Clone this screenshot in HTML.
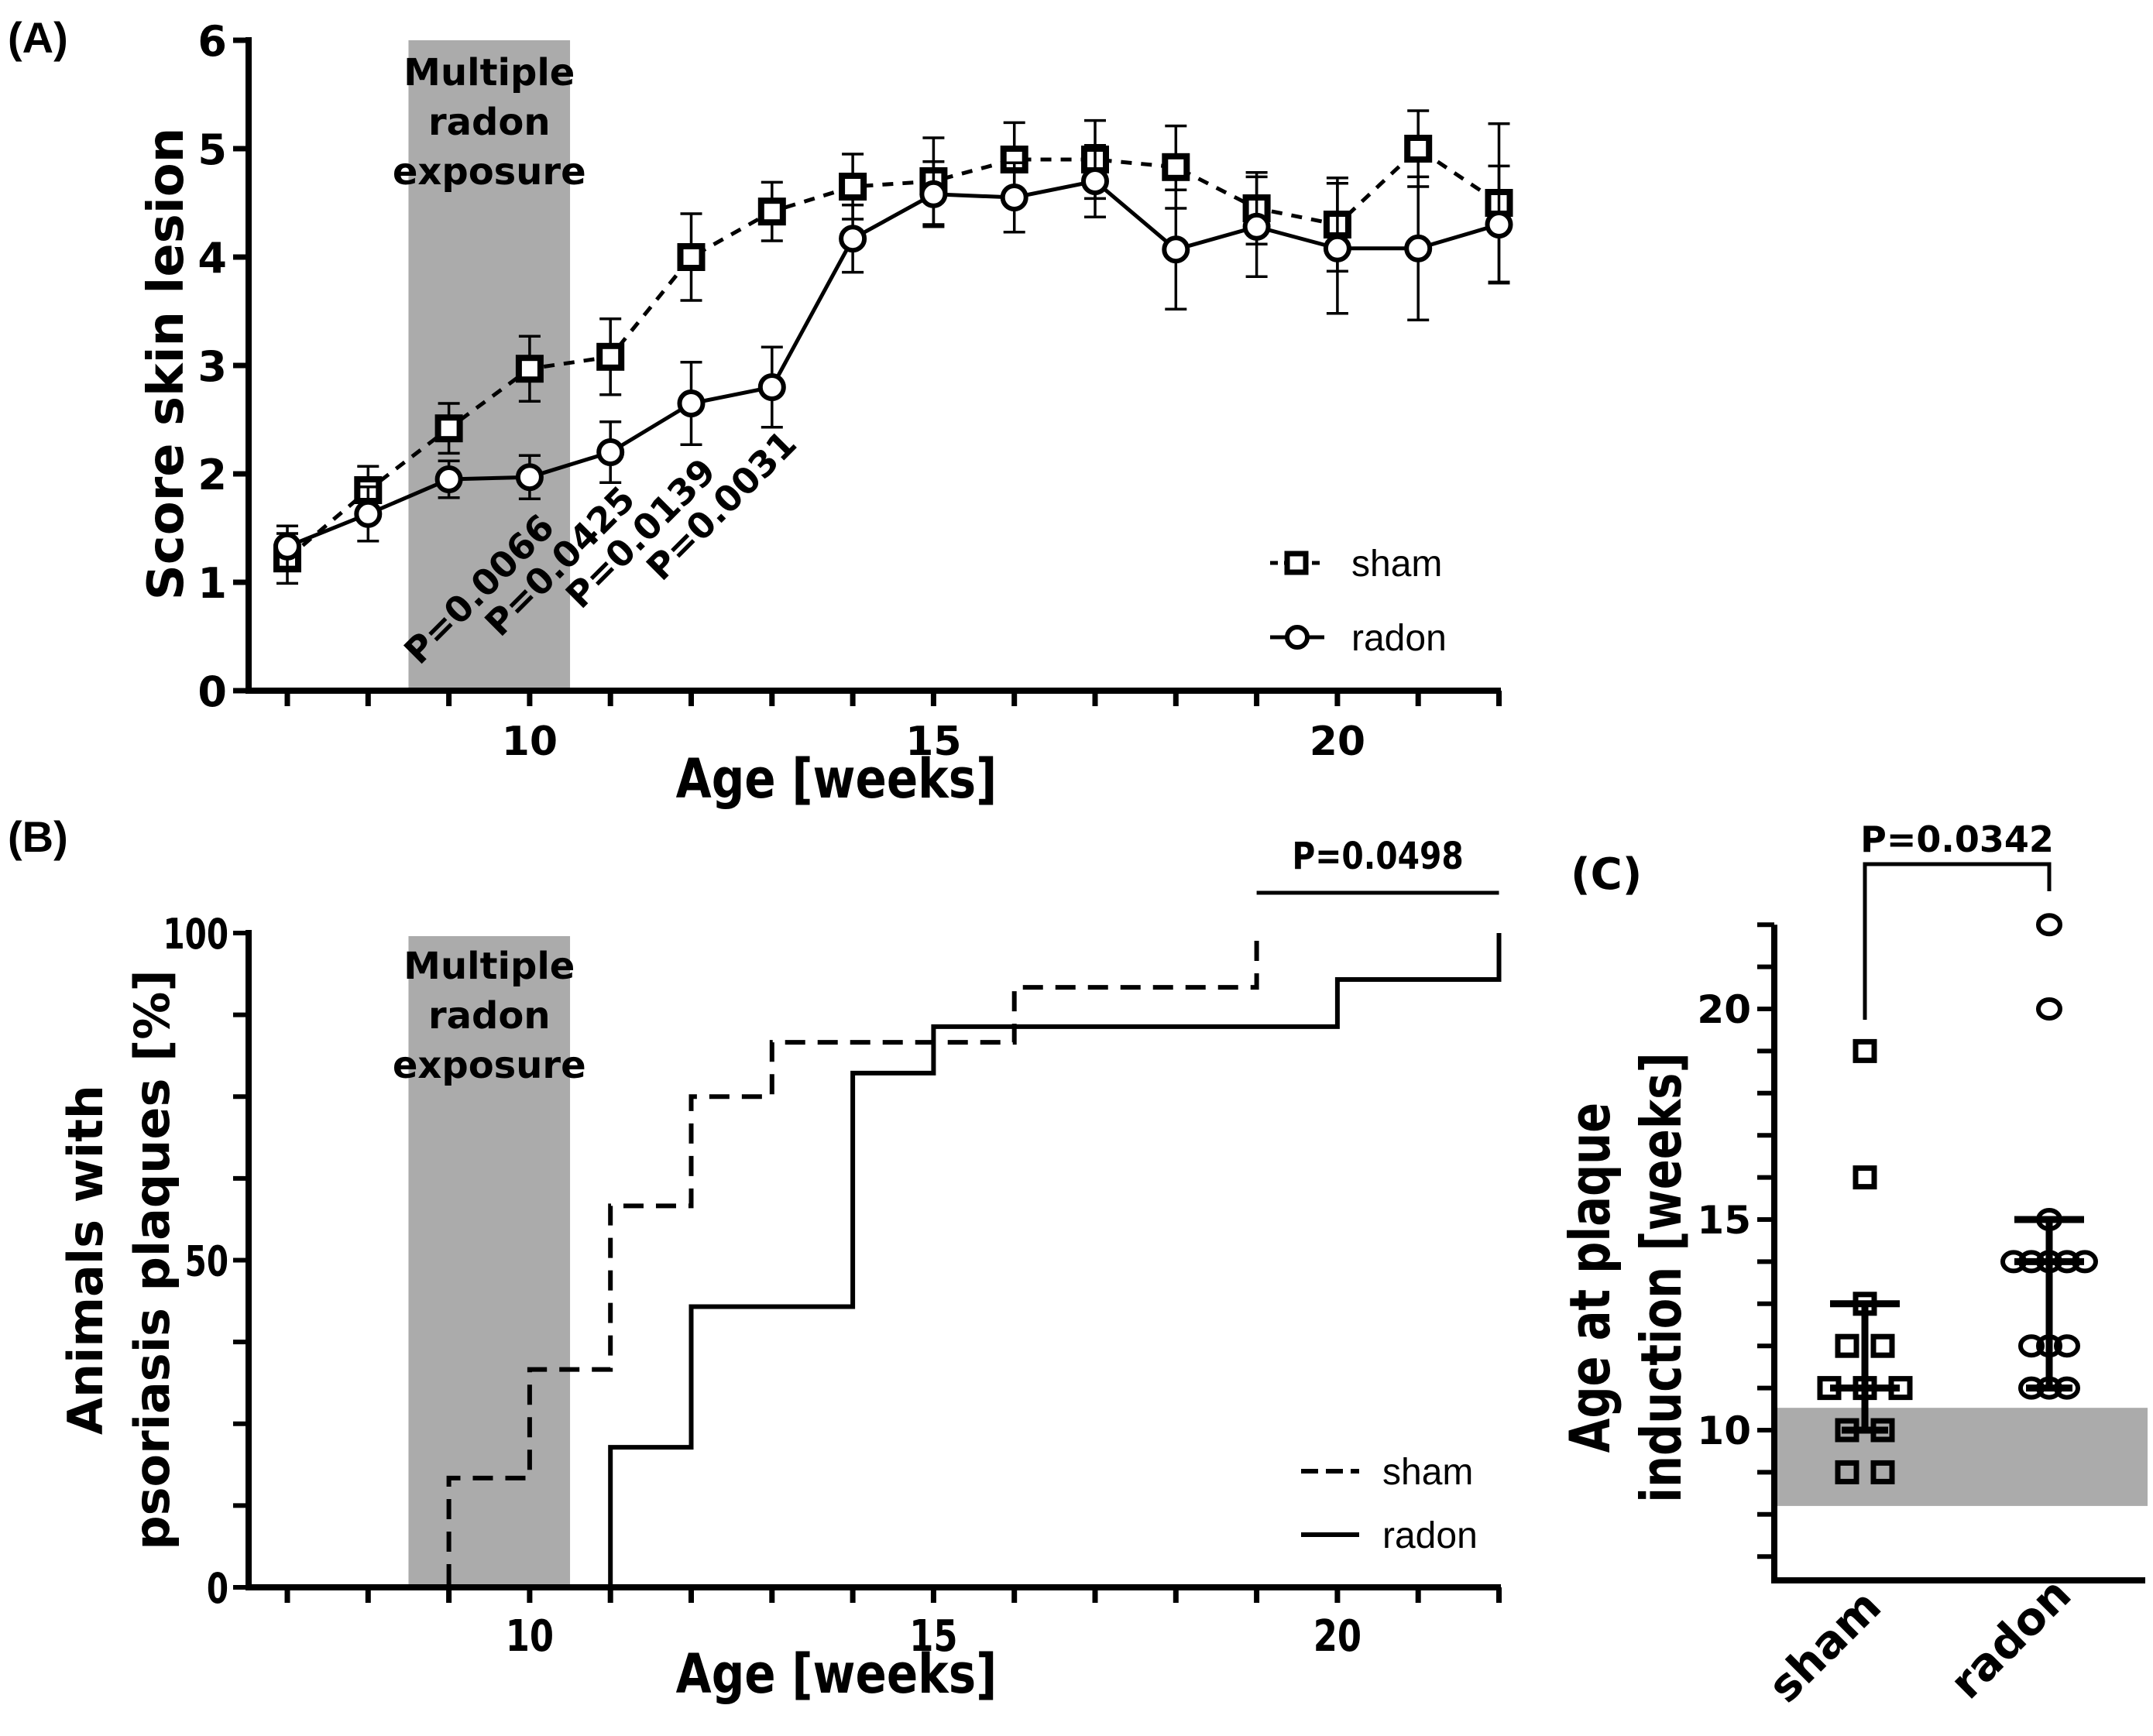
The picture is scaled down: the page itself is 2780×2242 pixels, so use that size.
<!DOCTYPE html>
<html><head><meta charset="utf-8"><style>
html,body{margin:0;padding:0;background:#fff}
svg{display:block}
text{font-family:"DejaVu Sans","Liberation Sans",sans-serif;font-weight:bold;fill:#000}
.n{font-family:"Liberation Sans",sans-serif}
</style></head><body>
<svg id="fig" width="2780" height="2242" viewBox="0 0 2780 2242" xmlns="http://www.w3.org/2000/svg">
<text x="10" y="68" font-size="56" class="n">(A)</text>
<text x="10" y="1100" font-size="56" class="n">(B)</text>
<text x="2028" y="1148" font-size="56">(C)</text>
<g id="A"></g><g id="B"></g><g id="C"></g>
</svg>
<script>
const NS="http://www.w3.org/2000/svg";
// ---- Panel A data ----
const weeksA=[7,8,9,10,11,12,13,14,15,16,17,18,19,20,21,22];
const shamMean=[1.22,1.85,2.42,2.97,3.08,4.0,4.42,4.65,4.7,4.9,4.9,4.83,4.45,4.3,5.0,4.5];
const shamErr=[0.23,0.22,0.23,0.3,0.35,0.4,0.27,0.3,0.4,0.34,0.36,0.38,0.33,0.43,0.35,0.73];
const radonMean=[1.33,1.63,1.95,1.97,2.2,2.65,2.8,4.17,4.58,4.55,4.7,4.07,4.28,4.08,4.08,4.3];
const radonErr=[0.19,0.25,0.17,0.2,0.28,0.38,0.37,0.31,0.3,0.32,0.33,0.55,0.46,0.6,0.66,0.54];
const yTicksA=[0,1,2,3,4,5,6];
const xTickLabels=[10,15,20];
const pWeeks=[10,11,12,13];
const pLabels=["P=0.0066","P=0.0425","P=0.0139","P=0.0031"];
// ---- Panel B data ----
const shamStepX=[9,10,11,12,13,16,19];
const shamStepY=[16.7,33.3,58.3,75,83.3,91.7,100];
const radonStepX=[11,12,14,15,20,22];
const radonStepY=[21.4,42.9,78.6,85.7,92.9,100];
const yTicksB=[0,50,100];
// ---- Panel C data ----
const shamAges=[19,16,13,12,12,11,11,11,10,10,9,9];
const radonAges=[22,20,15,14,14,14,14,14,12,12,12,11,11,11];
const shamStats=[10,11,13];
const radonStats=[11,14,15];
const yTicksC=[10,15,20];

function el(p,tag,at,name,txt){const e=document.createElementNS(NS,tag);for(const k in at)e.setAttribute(k,at[k]);


if(txt!==undefined)e.textContent=txt;p.appendChild(e);return e;}
const X=w=>371+(w-7)*104.3;
const AX0=321,AX1=1938;
// ---------- Panel A ----------
const A=document.getElementById('A');
const yA=v=>892-v*140;
el(A,'rect',{x:X(8.5),y:yA(6),width:X(10.5)-X(8.5),height:yA(0)-yA(6),fill:'#ababab'},'exposure-shade-a');
['Multiple','radon','exposure'].forEach((t,i)=>el(A,'text',{x:X(9.5),y:110+i*64,'font-size':48,'text-anchor':'middle'},'exposure-label-a',t));
el(A,'line',{x1:AX0,y1:yA(6)-4,x2:AX0,y2:yA(0)+4,stroke:'#000','stroke-width':8},'y-axis-a');
el(A,'line',{x1:AX0-4,y1:yA(0),x2:AX1,y2:yA(0),stroke:'#000','stroke-width':8},'x-axis-a');
yTicksA.forEach(v=>{el(A,'line',{x1:AX0-20,y1:yA(v),x2:AX0,y2:yA(v),stroke:'#000','stroke-width':7},'y-tick-a');
el(A,'text',{x:AX0-28,y:yA(v)+20,'font-size':54,'text-anchor':'end'},'y-tick-label-a',v);});
for(let w=7;w<=22;w++)el(A,'line',{x1:X(w),y1:yA(0),x2:X(w),y2:yA(0)+20,stroke:'#000','stroke-width':7},'x-tick-a');
xTickLabels.forEach(v=>el(A,'text',{x:X(v),y:975,'font-size':52,'text-anchor':'middle'},'x-tick-label-a',v));
el(A,'text',{x:0,y:0,'font-size':70,'text-anchor':'middle',transform:'translate(1080,1030) scale(0.85,1)'},'x-axis-title-a','Age [weeks]');
el(A,'text',{x:0,y:0,'font-size':64,'text-anchor':'middle',transform:'translate(236,470) rotate(-90)'},'y-axis-title-a','Score skin lesion');
function series(g,mean,err,dash,shape,name){
 el(g,'polyline',{points:weeksA.map((w,i)=>X(w)+','+yA(mean[i])).join(' '),fill:'none',stroke:'#000','stroke-width':5,'stroke-dasharray':dash},name+'-line');
 weeksA.forEach((w,i)=>{const x=X(w);
  el(g,'path',{d:`M${x},${yA(mean[i]-err[i])}V${yA(mean[i]+err[i])}M${x-14},${yA(mean[i]+err[i])}h28M${x-14},${yA(mean[i]-err[i])}h28`,stroke:'#000','stroke-width':3.5,fill:'none'},name+'-error-bar');
  if(shape==='sq')el(g,'rect',{x:x-14,y:yA(mean[i])-14,width:28,height:28,fill:'#fff',stroke:'#000','stroke-width':8},name+'-marker');
  else el(g,'circle',{cx:x,cy:yA(mean[i]),r:15,fill:'#fff',stroke:'#000','stroke-width':6},name+'-marker');});}
series(A,shamMean,shamErr,'14 12','sq','sham');
series(A,radonMean,radonErr,'none','ci','radon');
pWeeks.forEach((w,i)=>{const x=X(w)-54,y=772-i*36;
 el(A,'text',{x:0,y:0,'font-size':46,'text-anchor':'middle',transform:`translate(${x},${y}) rotate(-45)`},'p-value-a',pLabels[i]);});
// legend A
el(A,'line',{x1:1640,y1:727,x2:1710,y2:727,stroke:'#000','stroke-width':5,'stroke-dasharray':'10 8'},'legend-sham-line');
el(A,'rect',{x:1662,y:715,width:24,height:24,fill:'#fff',stroke:'#000','stroke-width':7},'legend-sham-marker');
el(A,'text',{x:1745,y:744,'font-size':48,class:'n',style:'font-weight:normal'},'legend-sham-label','sham');
el(A,'line',{x1:1640,y1:823,x2:1710,y2:823,stroke:'#000','stroke-width':5},'legend-radon-line');
el(A,'circle',{cx:1675,cy:823,r:13,fill:'#fff',stroke:'#000','stroke-width':6},'legend-radon-marker');
el(A,'text',{x:1745,y:840,'font-size':48,class:'n',style:'font-weight:normal'},'legend-radon-label','radon');
// ---------- Panel B ----------
const B=document.getElementById('B');
const yB=v=>2050-v*8.45;
el(B,'rect',{x:X(8.5),y:yB(100)+4,width:X(10.5)-X(8.5),height:yB(0)-yB(100)-4,fill:'#ababab'},'exposure-shade-b');
['Multiple','radon','exposure'].forEach((t,i)=>el(B,'text',{x:X(9.5),y:1264+i*64,'font-size':48,'text-anchor':'middle'},'exposure-label-b',t));
el(B,'line',{x1:AX0,y1:yB(100)-4,x2:AX0,y2:yB(0)+4,stroke:'#000','stroke-width':8},'y-axis-b');
el(B,'line',{x1:AX0-4,y1:yB(0),x2:AX1,y2:yB(0),stroke:'#000','stroke-width':8},'x-axis-b');
for(let v=0;v<=100;v+=12.5)el(B,'line',{x1:AX0-20,y1:yB(v),x2:AX0,y2:yB(v),stroke:'#000','stroke-width':6},'y-tick-b');
yTicksB.forEach(v=>el(B,'text',{x:0,y:0,'font-size':54,'text-anchor':'end',transform:`translate(${AX0-26},${yB(v)+20}) scale(0.75,1)`},'y-tick-label-b',v));
for(let w=7;w<=22;w++)el(B,'line',{x1:X(w),y1:yB(0),x2:X(w),y2:yB(0)+20,stroke:'#000','stroke-width':7},'x-tick-b');
xTickLabels.forEach(v=>el(B,'text',{x:0,y:0,'font-size':56,'text-anchor':'middle',transform:`translate(${X(v)},${2132}) scale(0.8,1)`},'x-tick-label-b',v));
el(B,'text',{x:0,y:0,'font-size':70,'text-anchor':'middle',transform:'translate(1080,2186) scale(0.85,1)'},'x-axis-title-b','Age [weeks]');
el(B,'text',{x:0,y:0,'font-size':62,'text-anchor':'middle',transform:'translate(132,1627) rotate(-90)'},'y-axis-title-b','Animals with');
el(B,'text',{x:0,y:0,'font-size':62,'text-anchor':'middle',transform:'translate(218,1627) rotate(-90)'},'y-axis-title-b-2','psoriasis plaques [%]');
function steps(xs,ys){let d=`M${X(xs[0])},${yB(0)-4}`;xs.forEach((x,i)=>{d+=`V${yB(ys[i])}`;if(i<xs.length-1)d+=`H${X(xs[i+1])}`;});return d;}
el(B,'path',{d:steps(shamStepX,shamStepY),fill:'none',stroke:'#000','stroke-width':6,'stroke-dasharray':'26 16'},'sham-curve');
el(B,'path',{d:steps(radonStepX,radonStepY),fill:'none',stroke:'#000','stroke-width':6},'radon-curve');
el(B,'line',{x1:X(19),y1:1153,x2:X(22),y2:1153,stroke:'#000','stroke-width':5},'p-value-b-bar');
el(B,'text',{x:0,y:0,'font-size':48,'text-anchor':'middle',transform:`translate(${(X(19)+X(22))/2},1122) scale(0.85,1)`},'p-value-b','P=0.0498');
el(B,'line',{x1:1680,y1:1900,x2:1755,y2:1900,stroke:'#000','stroke-width':6,'stroke-dasharray':'22 10'},'legend-b-sham-line');
el(B,'text',{x:1785,y:1917,'font-size':48,class:'n',style:'font-weight:normal'},'legend-b-sham-label','sham');
el(B,'line',{x1:1680,y1:1982,x2:1755,y2:1982,stroke:'#000','stroke-width':6},'legend-b-radon-line');
el(B,'text',{x:1785,y:1999,'font-size':48,class:'n',style:'font-weight:normal'},'legend-b-radon-label','radon');
// ---------- Panel C ----------
const C=document.getElementById('C');
const yC=v=>1847-(v-10)*54.4;
const CX0=2291,CX1=2770,xs=2408,xr=2646;
el(C,'rect',{x:CX0,y:yC(10.53),width:2773-CX0,height:yC(8.2)-yC(10.53),fill:'#ababab'},'exposure-shade-c');
el(C,'line',{x1:CX0,y1:yC(22),x2:CX0,y2:2045,stroke:'#000','stroke-width':8},'y-axis-c');
el(C,'line',{x1:CX0-4,y1:2041,x2:CX1,y2:2041,stroke:'#000','stroke-width':8},'x-axis-c');
for(let v=7;v<=22;v++)el(C,'line',{x1:CX0-22,y1:yC(v),x2:CX0,y2:yC(v),stroke:'#000','stroke-width':6},'y-tick-c');
yTicksC.forEach(v=>el(C,'text',{x:CX0-30,y:yC(v)+18,'font-size':50,'text-anchor':'end'},'y-tick-label-c',v));
el(C,'text',{x:0,y:0,'font-size':72,'text-anchor':'middle',transform:'translate(2078,1650) rotate(-90) scale(0.8,1)'},'y-axis-title-c','Age at plaque');
el(C,'text',{x:0,y:0,'font-size':72,'text-anchor':'middle',transform:'translate(2170,1650) rotate(-90) scale(0.8,1)'},'y-axis-title-c-2','induction [weeks]');
el(C,'text',{x:0,y:0,'font-size':58,'text-anchor':'middle',transform:'translate(2370,2140) rotate(-45)'},'x-label-sham','sham');
el(C,'text',{x:0,y:0,'font-size':58,'text-anchor':'middle',transform:'translate(2610,2130) rotate(-45)'},'x-label-radon','radon');
function spread(arr,i,gap){const v=arr[i];const same=arr.filter(a=>a===v);const k=arr.slice(0,i).filter(a=>a===v).length;return (k-(same.length-1)/2)*gap;}
function stat(x,s,name){el(C,'path',{d:`M${x},${yC(s[0])}V${yC(s[2])}M${x-45},${yC(s[2])}h90M${x-45},${yC(s[1])}h90M${x-30},${yC(s[0])}h60`,stroke:'#000','stroke-width':9,fill:'none'},name);}
shamAges.forEach((v,i)=>{const x=xs+spread(shamAges,i,46);el(C,'rect',{x:x-12,y:yC(v)-12,width:24,height:24,fill:'none',stroke:'#000','stroke-width':7},'sham-point');});
stat(xs,shamStats,'sham-median-iqr');
radonAges.forEach((v,i)=>{const x=xr+spread(radonAges,i,23);el(C,'ellipse',{cx:x,cy:yC(v),rx:14,ry:12,fill:'none',stroke:'#000','stroke-width':6},'radon-point');});
stat(xr,radonStats,'radon-median-iqr');
el(C,'path',{d:`M${xs},1317V1116H${xr}V1151`,fill:'none',stroke:'#000','stroke-width':5},'significance-bracket-c');
el(C,'text',{x:(xs+xr)/2,y:1100,'font-size':46,'text-anchor':'middle'},'p-value-c','P=0.0342');
</script>
</body></html>
